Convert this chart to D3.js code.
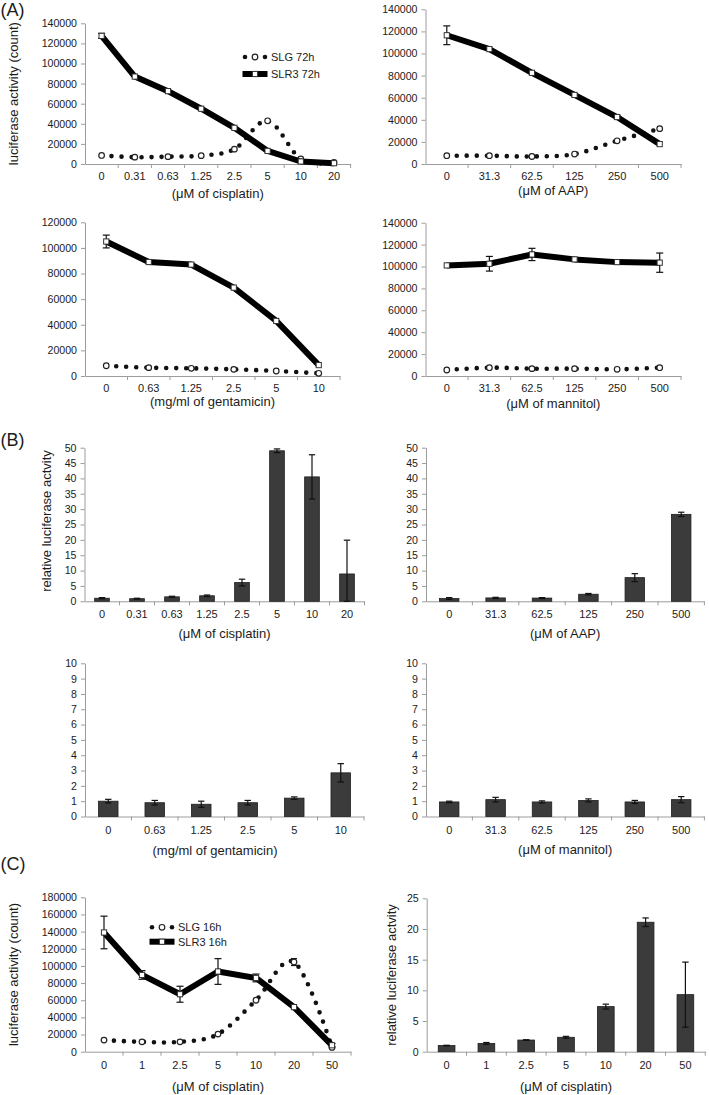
<!DOCTYPE html>
<html><head><meta charset="utf-8">
<script src="https://cdn.jsdelivr.net/npm/d3@7"></script>
<style>
body{margin:0;background:#fff;}
svg{display:block;font-family:"Liberation Sans",Arial,Helvetica,sans-serif;}
</style></head><body>
<svg id="c" width="709" height="1095"></svg>
<script>
// ---------------- DATA ----------------
const catCisplatin72 = ["0","0.31","0.63","1.25","2.5","5","10","20"];
const catAAP = ["0","31.3","62.5","125","250","500"];
const catGentamicin = ["0","0.63","1.25","2.5","5","10"];
const catMannitol = ["0","31.3","62.5","125","250","500"];
const catCisplatin16 = ["0","1","2.5","5","10","20","50"];

// (A) luciferase counts, 72h
const slgCisplatin72 = [8500, 6800, 7300, 8300, 14800, 43000, 5000, 1500];
const slr3Cisplatin72 = [127500, 87000, 72500, 55000, 36000, 13000, 2500, 800];
const slr3Cisplatin72Err = [2500, 0, 0, 0, 0, 0, 0, 0];

const slgAAP = [7500, 7500, 6800, 9000, 21000, 32000];
const slr3AAP = [116500, 104000, 82500, 62500, 42500, 18000];
const slr3AAPErr = [8500, 0, 0, 0, 1500, 0];

const slgGentamicin = [8000, 6500, 6000, 5200, 3900, 2100];
const slr3Gentamicin = [105000, 89000, 87000, 69000, 43000, 8500];
const slr3GentamicinErr = [5000, 0, 1000, 0, 0, 0];

const slgMannitol = [5500, 7600, 6700, 6700, 6100, 7600];
const slr3Mannitol = [101000, 102500, 111000, 106500, 104000, 103500];
const slr3MannitolErr = [0, 6700, 5600, 0, 0, 8800];

// (B) relative luciferase activity
const relCisplatin72 = [1.0, 0.85, 1.45, 1.8, 6.1, 49.0, 40.5, 8.9];
const relCisplatin72Err = [0.2, 0.15, 0.2, 0.25, 1.1, 0.6, 7.2, 11.0];
const relAAP = [0.9, 1.1, 1.05, 2.3, 7.7, 28.3];
const relAAPErr = [0.3, 0.2, 0.15, 0.25, 1.3, 0.7];
const relGentamicin = [1.0, 0.9, 0.8, 0.9, 1.2, 2.85];
const relGentamicinErr = [0.12, 0.15, 0.2, 0.15, 0.08, 0.6];
const relMannitol = [0.95, 1.1, 0.95, 1.05, 0.95, 1.1];
const relMannitolErr = [0.05, 0.15, 0.07, 0.1, 0.1, 0.2];

// (C) 16h
const slgCisplatin16 = [13500, 11500, 11500, 20500, 60000, 104500, 5000];
const slgCisplatin16Err = [0, 0, 0, 0, 0, 4000, 0];
const slr3Cisplatin16 = [139000, 89500, 67000, 93500, 86000, 52000, 7500];
const slr3Cisplatin16Err = [19000, 5000, 9300, 15000, 4500, 0, 2000];
const relCisplatin16 = [1.0, 1.35, 1.9, 2.35, 7.35, 21.1, 9.3];
const relCisplatin16Err = [0.05, 0.15, 0.05, 0.15, 0.4, 0.7, 5.3];

// tick labels
const ticksCount140 = [0, 20000, 40000, 60000, 80000, 100000, 120000, 140000];
const ticksCount120 = [0, 20000, 40000, 60000, 80000, 100000, 120000];
const ticksCount180 = [0, 20000, 40000, 60000, 80000, 100000, 120000, 140000, 160000, 180000];
const ticksRel50 = [0, 5, 10, 15, 20, 25, 30, 35, 40, 45, 50];
const ticksRel10 = [0, 1, 2, 3, 4, 5, 6, 7, 8, 9, 10];
const ticksRel25 = [0, 5, 10, 15, 20, 25];

const legend72 = ["SLG 72h", "SLR3 72h"];
const legend16 = ["SLG 16h", "SLR3 16h"];

// ---------------- DRAWING ----------------
const svg = d3.select("#c");
const AXIS = "#9c9c9c", TEXT = "#1c1c1c";

function frame(p) {
  const x = d3.scaleBand().domain(p.cats).range([p.x0, p.x1]);
  const y = d3.scaleLinear().domain([0, p.max]).range([p.yb, p.yt]);
  const g = svg.append("g");
  const ya = g.append("g").attr("transform", `translate(${p.x0},0)`)
    .call(d3.axisLeft(y).tickValues(p.ticks).tickSize(4).tickSizeOuter(0).tickPadding(4).tickFormat(d => String(d)));
  ya.select(".domain").attr("stroke", AXIS);
  ya.selectAll(".tick line").attr("stroke", AXIS);
  ya.selectAll("text").attr("fill", TEXT).style("font-size", "10.6px").attr("font-family", null);
  const xa = g.append("g").attr("transform", `translate(0,${p.yb})`)
    .call(d3.axisBottom(x).tickSize(0).tickSizeOuter(0).tickPadding(p.labelY - p.yb - 3.9));
  xa.select(".domain").attr("stroke", AXIS);
  xa.selectAll("text").attr("fill", TEXT).style("font-size", "11px").attr("font-family", null);
  // category boundary ticks
  const bounds = p.cats.map(c => x(c)).concat([p.x1]).slice(1);
  xa.selectAll(".btick").data(bounds).enter().append("line")
    .attr("x1", d => d).attr("x2", d => d).attr("y1", 0).attr("y2", 4).attr("stroke", AXIS);
  g.append("text").attr("x", p.titleX || (p.x0 + p.x1) / 2).attr("y", p.titleY)
    .attr("text-anchor", "middle").attr("fill", TEXT).style("font-size", "13px").text(p.title);
  if (p.yTitle) {
    const cy = p.yTitleY || (p.yt + p.yb) / 2;
    g.append("text").attr("transform", `translate(${p.yTitleX},${cy}) rotate(-90)`)
      .attr("text-anchor", "middle").attr("dy", "0.35em").attr("fill", TEXT)
      .style("font-size", "13px").text(p.yTitle);
  }
  return {x, y, g, cx: c => x(c) + x.bandwidth() / 2};
}

function errBars(g, xs, ys, es, y, cap) {
  xs.forEach((xv, i) => {
    const e = es ? es[i] : 0;
    if (!e) return;
    const v = ys[i];
    const top = y(v + e), bot = y(Math.max(0, v - e));
    g.append("line").attr("x1", xv).attr("x2", xv).attr("y1", top).attr("y2", bot).attr("stroke", "#111").attr("stroke-width", 1.2);
    [top, bot].forEach(yy => g.append("line").attr("x1", xv - cap).attr("x2", xv + cap).attr("y1", yy).attr("y2", yy).attr("stroke", "#111").attr("stroke-width", 1.2));
  });
}

function linePanel(p) {
  const {x, y, g, cx} = frame(p);
  const xs = p.cats.map(cx);
  const smooth = d3.line().curve(d3.curveCatmullRom.alpha(0)).x((d, i) => xs[i]).y(d => y(d));
  const straight = d3.line().x((d, i) => xs[i]).y(d => y(d));
  // SLG dotted smoothed
  g.append("path").attr("d", smooth(p.slg)).attr("fill", "none").attr("stroke", "#111")
    .attr("stroke-width", 4.6).attr("stroke-dasharray", "0 10").attr("stroke-linecap", "round");
  errBars(g, xs, p.slg, p.slgErr, y, 3);
  g.selectAll(".slgm").data(p.slg).enter().append("circle")
    .attr("cx", (d, i) => xs[i]).attr("cy", d => y(d)).attr("r", 2.8)
    .attr("fill", "#fff").attr("stroke", "#222").attr("stroke-width", 1.2);
  // SLR3 thick
  g.append("path").attr("d", straight(p.slr3)).attr("fill", "none").attr("stroke", "#000")
    .attr("stroke-width", 6).attr("stroke-linejoin", "round");
  errBars(g, xs, p.slr3, p.slr3Err, y, 3.5);
  g.selectAll(".slrm").data(p.slr3).enter().append("rect")
    .attr("x", (d, i) => xs[i] - 2.6).attr("y", d => y(d) - 2.6).attr("width", 5.2).attr("height", 5.2)
    .attr("fill", "#fff").attr("stroke", "#333").attr("stroke-width", 1);
  if (p.legend) {
    const L = p.legend;
    const lg = g.append("g");
    [-10, 10].forEach(dx => lg.append("circle").attr("cx", L.x + dx).attr("cy", L.y1).attr("r", 2.3).attr("fill", "#111"));
    lg.append("circle").attr("cx", L.x).attr("cy", L.y1).attr("r", 2.8).attr("fill", "#fff").attr("stroke", "#222").attr("stroke-width", 1.2);
    lg.append("line").attr("x1", L.x - 12.5).attr("x2", L.x + 12.5).attr("y1", L.y2).attr("y2", L.y2).attr("stroke", "#000").attr("stroke-width", 6);
    lg.append("rect").attr("x", L.x - 2.6).attr("y", L.y2 - 2.6).attr("width", 5.2).attr("height", 5.2).attr("fill", "#fff").attr("stroke", "#333");
    lg.append("text").attr("x", L.tx).attr("y", L.y1 + 4).attr("fill", TEXT).style("font-size", "11px").text(L.names[0]);
    lg.append("text").attr("x", L.tx).attr("y", L.y2 + 4).attr("fill", TEXT).style("font-size", "11px").text(L.names[1]);
  }
}

function barPanel(p) {
  const {x, y, g, cx} = frame(p);
  const xs = p.cats.map(cx);
  const bw = x.bandwidth() * 0.42;
  g.selectAll(".bar").data(p.vals).enter().append("rect")
    .attr("x", (d, i) => xs[i] - bw / 2).attr("y", d => y(d)).attr("width", bw).attr("height", d => y(0) - y(d))
    .attr("fill", "#3b3b3b").attr("stroke", "#1e1e1e").attr("stroke-width", 0.8);
  errBars(g, xs, p.vals, p.errs, y, 3.2);
}

// panel labels
[["(A)", 16.2], ["(B)", 446.4], ["(C)", 869.7]].forEach(([t, yy]) =>
  svg.append("text").attr("x", 0.5).attr("y", yy).attr("fill", TEXT).style("font-size", "18px").text(t));

linePanel({cats: catCisplatin72, slg: slgCisplatin72, slr3: slr3Cisplatin72, slr3Err: slr3Cisplatin72Err,
  ticks: ticksCount140, max: 140000, x0: 85, x1: 350.6, yt: 23.3, yb: 164, labelY: 176,
  title: "(μM of cisplatin)", titleY: 197.5, yTitle: "luciferase activity (count)", yTitleX: 13,
  legend: {x: 255, y1: 57, y2: 74, tx: 271, names: legend72}});
linePanel({cats: catAAP, slg: slgAAP, slr3: slr3AAP, slr3Err: slr3AAPErr,
  ticks: ticksCount140, max: 140000, x0: 425.5, x1: 681, yt: 9.3, yb: 164, labelY: 176,
  title: "(μM of AAP)", titleY: 195});
linePanel({cats: catGentamicin, slg: slgGentamicin, slr3: slr3Gentamicin, slr3Err: slr3GentamicinErr,
  ticks: ticksCount120, max: 120000, x0: 85, x1: 340, yt: 222.3, yb: 376, labelY: 388.3,
  title: "(mg/ml of gentamicin)", titleY: 406});
linePanel({cats: catMannitol, slg: slgMannitol, slr3: slr3Mannitol, slr3Err: slr3MannitolErr,
  ticks: ticksCount140, max: 140000, x0: 425.5, x1: 681, yt: 222.7, yb: 376, labelY: 388.3,
  title: "(μM of mannitol)", titleY: 408});

barPanel({cats: catCisplatin72, vals: relCisplatin72, errs: relCisplatin72Err,
  ticks: ticksRel50, max: 50, x0: 84.5, x1: 364.5, yt: 447.7, yb: 601.3, labelY: 614,
  title: "(μM of cisplatin)", titleY: 638, yTitle: "relative luciferase actvity", yTitleX: 46, yTitleY: 521});
barPanel({cats: catAAP, vals: relAAP, errs: relAAPErr,
  ticks: ticksRel50, max: 50, x0: 426, x1: 704.4, yt: 447.7, yb: 601.3, labelY: 614,
  title: "(μM of AAP)", titleY: 638});
barPanel({cats: catGentamicin, vals: relGentamicin, errs: relGentamicinErr,
  ticks: ticksRel10, max: 10, x0: 85, x1: 364, yt: 663.3, yb: 816.5, labelY: 830,
  title: "(mg/ml of gentamicin)", titleY: 855, titleX: 215});
barPanel({cats: catMannitol, vals: relMannitol, errs: relMannitolErr,
  ticks: ticksRel10, max: 10, x0: 426, x1: 704.4, yt: 663.3, yb: 816.5, labelY: 830,
  title: "(μM of mannitol)", titleY: 854});

linePanel({cats: catCisplatin16, slg: slgCisplatin16, slgErr: slgCisplatin16Err, slr3: slr3Cisplatin16, slr3Err: slr3Cisplatin16Err,
  ticks: ticksCount180, max: 180000, x0: 85, x1: 351, yt: 897.3, yb: 1051.7, labelY: 1065,
  title: "(μM of cisplatin)", titleY: 1090.5, yTitle: "luciferase activity (count)", yTitleX: 13,
  legend: {x: 162, y1: 927.3, y2: 941.7, tx: 178, names: legend16}});
barPanel({cats: catCisplatin16, vals: relCisplatin16, errs: relCisplatin16Err,
  ticks: ticksRel25, max: 25, x0: 426.7, x1: 705.3, yt: 898.3, yb: 1051.7, labelY: 1065,
  title: "(μM of cisplatin)", titleY: 1090.5, yTitle: "relative luciferase actvity", yTitleX: 391});
</script>
</body></html>
